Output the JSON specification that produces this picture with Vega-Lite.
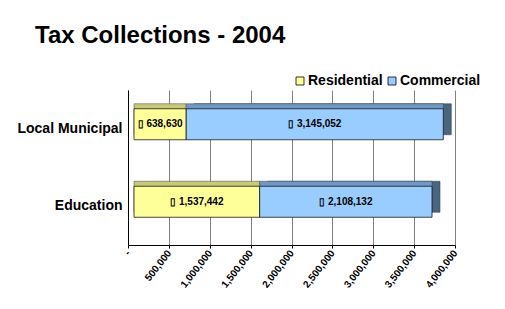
{
  "$schema": "https://vega.github.io/schema/vega-lite/v6.json",
  "width": 327,
  "height": 155,
  "autosize": {"type": "none"},
  "padding": {"left": 128, "top": 90, "right": 50, "bottom": 64},
  "background": "white",
  "config": {
    "font": "Liberation Sans",
    "view": {"stroke": null},
    "axisX": {
      "labelAngle": -52,
      "labelAlign": "right",
      "labelBaseline": "middle",
      "labelFont": "Liberation Sans",
      "labelFontSize": 10,
      "labelFontWeight": "bold",
      "labelColor": "black",
      "labelPadding": 3,
      "labelOverlap": false,
      "labelFlush": false,
      "tickSize": 3,
      "tickColor": "black",
      "domainColor": "black",
      "domainWidth": 1,
      "grid": true,
      "gridColor": "#808080",
      "gridWidth": 1
    }
  },
  "title": {
    "text": "Tax Collections - 2004",
    "anchor": "start",
    "frame": "group",
    "dx": -93,
    "offset": 26,
    "fontSize": 24,
    "font": "Liberation Sans",
    "fontWeight": "bold",
    "color": "black"
  },
  "data": {
    "values": [
      {"category": "Local Municipal", "type": "Residential", "value": 638630, "label": "▯ 638,630"},
      {"category": "Local Municipal", "type": "Commercial", "value": 3145052, "label": "▯ 3,145,052"},
      {"category": "Education", "type": "Residential", "value": 1537442, "label": "▯ 1,537,442"},
      {"category": "Education", "type": "Commercial", "value": 2108132, "label": "▯ 2,108,132"}
    ]
  },
  "transform": [
    {"stack": "value", "groupby": ["category"], "sort": [{"field": "type", "order": "descending"}], "as": ["v0", "v1"]}
  ],
  "encoding": {
    "y": {
      "field": "category",
      "type": "nominal",
      "sort": ["Local Municipal", "Education"],
      "scale": {"paddingInner": 0, "paddingOuter": 0},
      "axis": {
        "title": null,
        "ticks": false,
        "labelFont": "Liberation Sans",
        "labelFontSize": 14,
        "labelFontWeight": "bold",
        "labelColor": "black",
        "labelPadding": 6,
        "domainColor": "black",
        "domainWidth": 1
      }
    }
  },
  "layer": [
    {
      "transform": [{"filter": "datum.type == 'Commercial'"}],
      "mark": {"type": "bar", "size": 31, "xOffset": 14, "x2Offset": 14, "yOffset": -9.5, "fill": "#4A6580", "stroke": "#2a3a4a", "strokeWidth": 0.5},
      "encoding": {
        "x": {
          "field": "v0",
          "type": "quantitative",
          "scale": {"domain": [0, 4000000], "nice": false},
          "axis": {
            "title": null,
            "values": [0, 500000, 1000000, 1500000, 2000000, 2500000, 3000000, 3500000, 4000000],
            "labelExpr": "datum.value == 0 ? '-' : format(datum.value, ',')"
          }
        },
        "x2": {"field": "v1"}
      }
    },
    {
      "mark": {"type": "bar", "size": 31, "xOffset": 6, "x2Offset": 6, "yOffset": -9.5, "stroke": "#444444", "strokeWidth": 0.5},
      "encoding": {
        "x": {
          "field": "v0",
          "type": "quantitative",
          "axis": {
            "title": null,
            "values": [0, 500000, 1000000, 1500000, 2000000, 2500000, 3000000, 3500000, 4000000],
            "labelExpr": "datum.value == 0 ? '-' : format(datum.value, ',')"
          }
        },
        "x2": {"field": "v1"},
        "color": {
          "field": "type",
          "type": "nominal",
          "scale": {"domain": ["Residential", "Commercial"], "range": ["#C8C87A", "#6F98C4"]},
          "legend": null
        }
      }
    },
    {
      "mark": {"type": "bar", "size": 31, "xOffset": 6, "x2Offset": 6, "yOffset": -4.5, "stroke": "#1a1a1a", "strokeWidth": 0.8},
      "encoding": {
        "x": {
          "field": "v0",
          "type": "quantitative",
          "axis": {
            "title": null,
            "values": [0, 500000, 1000000, 1500000, 2000000, 2500000, 3000000, 3500000, 4000000],
            "labelExpr": "datum.value == 0 ? '-' : format(datum.value, ',')"
          }
        },
        "x2": {"field": "v1"},
        "color": {
          "field": "type",
          "type": "nominal",
          "scale": {"domain": ["Residential", "Commercial"], "range": ["#FFFF99", "#99CCFF"]},
          "legend": {
            "title": null,
            "orient": "none",
            "direction": "horizontal",
            "legendX": 165,
            "legendY": -16,
            "symbolType": "square",
            "symbolSize": 64,
            "symbolStrokeColor": "black",
            "symbolStrokeWidth": 0.8,
            "labelFont": "Liberation Sans",
            "labelFontSize": 14,
            "labelFontWeight": "bold",
            "labelColor": "black",
            "labelOffset": 1,
            "columnPadding": 2,
            "padding": 0
          }
        }
      }
    },
    {
      "transform": [{"fold": ["v0", "v1"], "as": ["edge", "pos"]}],
      "mark": {"type": "text", "xOffset": 6, "yOffset": -4.5, "fontSize": 10, "fontWeight": "bold", "color": "black", "font": "Liberation Sans"},
      "encoding": {
        "x": {
          "aggregate": "mean",
          "field": "pos",
          "type": "quantitative",
          "axis": {
            "title": null,
            "values": [0, 500000, 1000000, 1500000, 2000000, 2500000, 3000000, 3500000, 4000000],
            "labelExpr": "datum.value == 0 ? '-' : format(datum.value, ',')"
          }
        },
        "detail": {"field": "type"},
        "text": {"field": "label", "type": "nominal"}
      }
    }
  ],
  "resolve": {"scale": {"color": "independent"}}
}
